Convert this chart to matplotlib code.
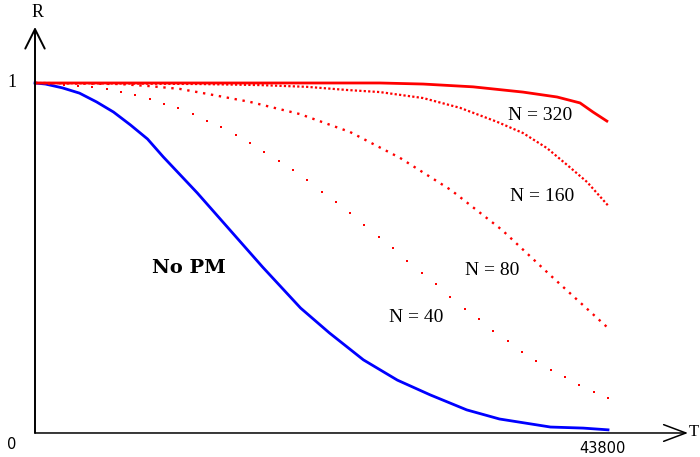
import matplotlib
import matplotlib.pyplot as plt

matplotlib.use("Agg")

# Reliability without preventive maintenance
t_nopm = [0, 800, 2100, 3400, 4700, 6000, 7300, 8600, 9800, 12400, 14900, 17400,
          20300, 22500, 25100, 27700, 30200, 33000, 35500, 39400, 41900, 43800]
r_nopm = [1.0, 0.997, 0.986, 0.971, 0.946, 0.917, 0.880, 0.840, 0.789, 0.686, 0.580, 0.474,
          0.357, 0.286, 0.209, 0.151, 0.109, 0.066, 0.040, 0.017, 0.014, 0.009]

# N = 40 maintenance actions, one point per interval
t_n40 = [1095, 2190, 3285, 4380, 5475, 6570, 7665, 8760, 9855, 10950,
         12045, 13140, 14235, 15330, 16425, 17520, 18615, 19710, 20805, 21900,
         22995, 24090, 25185, 26280, 27375, 28470, 29565, 30660, 31755, 32850,
         33945, 35040, 36135, 37230, 38325, 39420, 40515, 41610, 42705, 43800]
r_n40 = [0.997, 0.994, 0.991, 0.989, 0.983, 0.974, 0.966, 0.954, 0.940, 0.929,
         0.911, 0.891, 0.874, 0.851, 0.829, 0.803, 0.777, 0.751, 0.723, 0.689,
         0.660, 0.629, 0.594, 0.560, 0.529, 0.491, 0.457, 0.426, 0.389, 0.354,
         0.326, 0.291, 0.263, 0.231, 0.206, 0.180, 0.160, 0.137, 0.117, 0.100]

# N = 80
t_n80 = [0, 6500, 8790, 11080, 13150, 16430, 20260, 24080, 27900, 31800, 35700, 39440, 43800]
r_n80 = [1.0, 0.997, 0.991, 0.983, 0.969, 0.946, 0.911, 0.860, 0.786, 0.694, 0.580, 0.449, 0.300]

# N = 160
t_n160 = [0, 12610, 17200, 20790, 23850, 26370, 29660, 32490, 35320, 37300, 39130, 40670, 42200, 43800]
r_n160 = [1.0, 0.997, 0.994, 0.989, 0.980, 0.974, 0.957, 0.929, 0.889, 0.857, 0.814, 0.766, 0.717, 0.650]

# N = 320
t_n320 = [0, 26370, 29660, 33480, 37300, 39900, 41660, 42650, 43800]
r_n320 = [1.0, 1.0, 0.997, 0.989, 0.974, 0.960, 0.943, 0.917, 0.889]

t_max = 43800

serif = "Liberation Serif"

fig = plt.figure(figsize=(7, 4.57), dpi=100)
ax = fig.add_axes([0, 0, 1, 1])
ax.axis("off")
ax.set_xlim(-2675, 50830)
ax.set_ylim(-0.0686, 1.2371)

# axes drawn as arrows from the origin
ax.annotate("", xy=(0, 1.16), xytext=(0, 0),
            arrowprops=dict(arrowstyle="->,head_length=0.7,head_width=0.35",
                            lw=1.4, color="black", shrinkA=0, shrinkB=0,
                            mutation_scale=20))
ax.annotate("", xy=(49915, 0), xytext=(0, 0),
            arrowprops=dict(arrowstyle="->,head_length=0.8,head_width=0.3",
                            lw=1.1, color="black", shrinkA=0, shrinkB=0,
                            mutation_scale=20))

ax.plot(t_nopm, r_nopm, color="#0000ff", lw=2.0)
ax.plot(t_n40, r_n40, linestyle="none", marker="s", ms=1.8, mew=0, color="#ff0000")
ax.plot(t_n80, r_n80, color="#ff0000", lw=1.7, linestyle=(0, (1, 2.4)))
ax.plot(t_n160, r_n160, color="#ff0000", lw=1.6, linestyle=(0, (1, 1.0)))
ax.plot(t_n320, r_n320, color="#ff0000", lw=2.0, solid_capstyle="butt")

ax.text(36160, 0.906, "N = 320", family=serif, fontsize=14, va="center")
ax.text(36310, 0.677, "N = 160", family=serif, fontsize=14, va="center")
ax.text(32870, 0.463, "N = 80", family=serif, fontsize=14, va="center")
ax.text(27060, 0.329, "N = 40", family=serif, fontsize=14, va="center")
ax.text(8940, 0.471, "No PM", family="DejaVu Serif", fontsize=14, fontweight="bold", va="center")

ax.text(230, 1.2, "R", family=serif, fontsize=13, ha="center", va="center")
ax.text(49990, 0.003, "T", family=serif, fontsize=12, ha="left", va="center")
ax.text(-1760, 1.0, "1", family=serif, fontsize=13, ha="center", va="center")
ax.text(-1760, -0.034, "0", family="DejaVu Sans", fontsize=10.5, ha="center", va="center")
ax.text(t_max - 460, -0.043, "43800", family="DejaVu Sans", fontsize=10.5, ha="center", va="center")

fig.savefig("out.png", dpi=100)
